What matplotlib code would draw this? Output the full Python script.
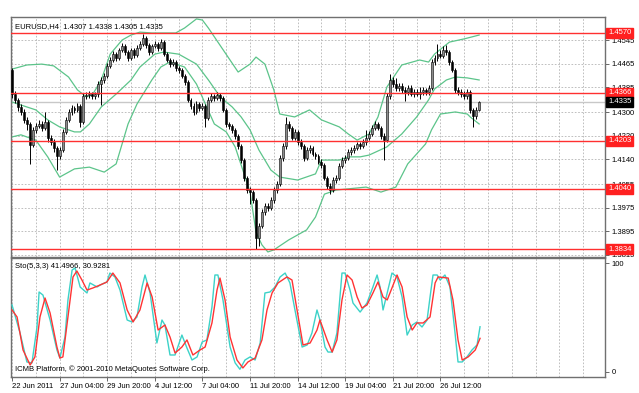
import matplotlib
matplotlib.use("Agg")
import matplotlib.pyplot as plt
import matplotlib.transforms as mtransforms

plt.rcParams["font.family"] = ["Liberation Sans", "DejaVu Sans"]

# ---------------- data ----------------
opens = [1.4444, 1.4362, 1.4342, 1.4318, 1.4301, 1.4274, 1.4260, 1.4188, 1.4240, 1.4253,
         1.4260, 1.4246, 1.4267, 1.4212, 1.4199, 1.4178, 1.4151, 1.4171, 1.4233, 1.4274,
         1.4301, 1.4314, 1.4308, 1.4321, 1.4267, 1.4355, 1.4359, 1.4362, 1.4355, 1.4362,
         1.4396, 1.4410, 1.4424, 1.4458, 1.4478, 1.4498, 1.4485, 1.4512, 1.4526, 1.4505,
         1.4485, 1.4512, 1.4495, 1.4519, 1.4533, 1.4553, 1.4529, 1.4505, 1.4526, 1.4533,
         1.4519, 1.4539, 1.4498, 1.4478, 1.4464, 1.4471, 1.4451, 1.4444, 1.4424, 1.4403,
         1.4342, 1.4321, 1.4301, 1.4328, 1.4314, 1.4321, 1.4280, 1.4342, 1.4355, 1.4349,
         1.4359, 1.4349, 1.4308, 1.4260, 1.4253, 1.4240, 1.4219, 1.4185, 1.4137, 1.4076,
         1.4035, 1.4028, 1.4001, 1.3872, 1.3912, 1.3960, 1.3981, 1.3974, 1.4001, 1.4035,
         1.4056, 1.4144, 1.4185, 1.4260, 1.4246, 1.4212, 1.4233, 1.4199, 1.4185, 1.4144,
         1.4171, 1.4178, 1.4158, 1.4151, 1.4131, 1.4120, 1.4076, 1.4049, 1.4035, 1.4069,
         1.4076, 1.4117, 1.4137, 1.4144, 1.4165, 1.4171, 1.4178, 1.4192, 1.4185, 1.4199,
         1.4212, 1.4226, 1.4246, 1.4260, 1.4246, 1.4219, 1.4205, 1.4355, 1.4410, 1.4396,
         1.4383, 1.4389, 1.4376, 1.4369, 1.4383, 1.4362, 1.4369, 1.4362, 1.4369, 1.4376,
         1.4369, 1.4383, 1.4471, 1.4485, 1.4498, 1.4492, 1.4512, 1.4505, 1.4471, 1.4444,
         1.4376, 1.4369, 1.4362, 1.4355, 1.4369, 1.4308, 1.4287, 1.4307]

closes = [1.4362, 1.4342, 1.4318, 1.4301, 1.4274, 1.4260, 1.4188, 1.4240, 1.4253, 1.4260,
          1.4246, 1.4267, 1.4212, 1.4199, 1.4178, 1.4151, 1.4171, 1.4233, 1.4274, 1.4301,
          1.4314, 1.4308, 1.4321, 1.4267, 1.4355, 1.4359, 1.4362, 1.4355, 1.4362, 1.4396,
          1.4410, 1.4424, 1.4458, 1.4478, 1.4498, 1.4485, 1.4512, 1.4526, 1.4505, 1.4485,
          1.4512, 1.4495, 1.4519, 1.4533, 1.4553, 1.4529, 1.4505, 1.4526, 1.4533, 1.4519,
          1.4539, 1.4498, 1.4478, 1.4464, 1.4471, 1.4451, 1.4444, 1.4424, 1.4403, 1.4342,
          1.4321, 1.4301, 1.4328, 1.4314, 1.4321, 1.4280, 1.4342, 1.4355, 1.4349, 1.4359,
          1.4349, 1.4308, 1.4260, 1.4253, 1.4240, 1.4219, 1.4185, 1.4137, 1.4076, 1.4035,
          1.4028, 1.4001, 1.3872, 1.3912, 1.3960, 1.3981, 1.3974, 1.4001, 1.4035, 1.4056,
          1.4144, 1.4185, 1.4260, 1.4246, 1.4212, 1.4233, 1.4199, 1.4185, 1.4144, 1.4171,
          1.4178, 1.4158, 1.4151, 1.4131, 1.4120, 1.4076, 1.4049, 1.4035, 1.4069, 1.4076,
          1.4117, 1.4137, 1.4144, 1.4165, 1.4171, 1.4178, 1.4192, 1.4185, 1.4199, 1.4212,
          1.4226, 1.4246, 1.4260, 1.4246, 1.4219, 1.4205, 1.4355, 1.4410, 1.4396, 1.4383,
          1.4389, 1.4376, 1.4369, 1.4383, 1.4362, 1.4369, 1.4362, 1.4369, 1.4376, 1.4369,
          1.4383, 1.4471, 1.4485, 1.4498, 1.4492, 1.4512, 1.4505, 1.4471, 1.4444, 1.4376,
          1.4369, 1.4362, 1.4355, 1.4369, 1.4308, 1.4287, 1.4307, 1.4335]

highs = [1.4452, 1.4372, 1.4350, 1.4328, 1.4310, 1.4285, 1.4268, 1.4250, 1.4265, 1.4272,
         1.4270, 1.4301, 1.4275, 1.4222, 1.4208, 1.4185, 1.4180, 1.4242, 1.4285, 1.4312,
         1.4325, 1.4322, 1.4332, 1.4328, 1.4366, 1.4368, 1.4372, 1.4370, 1.4370, 1.4405,
         1.4420, 1.4434, 1.4468, 1.4488, 1.4508, 1.4506, 1.4520, 1.4536, 1.4534, 1.4512,
         1.4520, 1.4520, 1.4528, 1.4542, 1.4567, 1.4560, 1.4536, 1.4534, 1.4542, 1.4540,
         1.4548, 1.4545, 1.4505, 1.4486, 1.4480, 1.4478, 1.4458, 1.4450, 1.4430, 1.4410,
         1.4350, 1.4330, 1.4338, 1.4336, 1.4330, 1.4328, 1.4352, 1.4366, 1.4362, 1.4368,
         1.4366, 1.4356, 1.4315, 1.4268, 1.4260, 1.4248, 1.4226, 1.4192, 1.4144, 1.4084,
         1.4045, 1.4036, 1.4008, 1.3922, 1.3970, 1.3990, 1.3990, 1.4010, 1.4045, 1.4066,
         1.4155, 1.4195, 1.4284, 1.4270, 1.4254, 1.4244, 1.4240, 1.4208, 1.4192, 1.4180,
         1.4188, 1.4186, 1.4166, 1.4158, 1.4140, 1.4128, 1.4084, 1.4058, 1.4078, 1.4086,
         1.4126, 1.4146, 1.4154, 1.4174, 1.4180, 1.4188, 1.4200, 1.4200, 1.4208, 1.4240,
         1.4236, 1.4255, 1.4270, 1.4268, 1.4254, 1.4228, 1.4365, 1.4430, 1.4420, 1.4415,
         1.4400, 1.4398, 1.4386, 1.4392, 1.4392, 1.4380, 1.4378, 1.4385, 1.4386, 1.4384,
         1.4392, 1.4480, 1.4495, 1.4533, 1.4512, 1.4525, 1.4530, 1.4512, 1.4478, 1.4452,
         1.4386, 1.4378, 1.4372, 1.4380, 1.4376, 1.4316, 1.4318, 1.4338]

lows = [1.4350, 1.4330, 1.4305, 1.4290, 1.4262, 1.4240, 1.4124, 1.4180, 1.4230, 1.4245,
        1.4236, 1.4238, 1.4200, 1.4188, 1.4166, 1.4103, 1.4140, 1.4165, 1.4225, 1.4266,
        1.4292, 1.4298, 1.4300, 1.4250, 1.4260, 1.4345, 1.4350, 1.4345, 1.4346, 1.4352,
        1.4325, 1.4400, 1.4415, 1.4450, 1.4470, 1.4476, 1.4478, 1.4505, 1.4496, 1.4476,
        1.4478, 1.4486, 1.4488, 1.4512, 1.4526, 1.4520, 1.4496, 1.4498, 1.4518, 1.4510,
        1.4512, 1.4490, 1.4470, 1.4455, 1.4456, 1.4442, 1.4435, 1.4415, 1.4394, 1.4334,
        1.4312, 1.4292, 1.4294, 1.4305, 1.4306, 1.4250, 1.4272, 1.4334, 1.4340, 1.4341,
        1.4340, 1.4300, 1.4250, 1.4244, 1.4230, 1.4210, 1.4176, 1.4128, 1.4066, 1.4025,
        1.3987, 1.3990, 1.3834, 1.3845, 1.3905, 1.3950, 1.3962, 1.3966, 1.3992, 1.4025,
        1.4048, 1.4135, 1.4176, 1.4236, 1.4204, 1.4204, 1.4190, 1.4176, 1.4135, 1.4136,
        1.4162, 1.4150, 1.4142, 1.4122, 1.4110, 1.4068, 1.4040, 1.4021, 1.4028, 1.4060,
        1.4068, 1.4110, 1.4128, 1.4136, 1.4156, 1.4162, 1.4170, 1.4176, 1.4178, 1.4190,
        1.4204, 1.4218, 1.4238, 1.4238, 1.4210, 1.4137, 1.4198, 1.4345, 1.4386, 1.4374,
        1.4372, 1.4366, 1.4340, 1.4360, 1.4354, 1.4352, 1.4354, 1.4346, 1.4360, 1.4360,
        1.4360, 1.4375, 1.4462, 1.4476, 1.4484, 1.4484, 1.4496, 1.4462, 1.4436, 1.4366,
        1.4360, 1.4352, 1.4346, 1.4346, 1.4298, 1.4250, 1.4278, 1.4305]

# Bollinger bands (bar index, price)
bb_upper_x = [0, 5, 10, 14, 19, 22, 25, 27, 30, 33, 37, 40, 43, 47, 55, 58, 62, 64, 66, 71,
              76, 80, 82, 85, 88, 90, 95, 100, 104, 110, 113, 116, 120, 123, 126, 131, 137,
              140, 142, 147, 152, 157]
bb_upper_y = [1.4447, 1.4461, 1.4464, 1.4458, 1.4420, 1.4376, 1.4352, 1.4359, 1.4410, 1.4498,
              1.4546, 1.4563, 1.4573, 1.4570, 1.4570, 1.4587, 1.4618, 1.4614, 1.4587, 1.4512,
              1.4437, 1.4464, 1.4488, 1.4464, 1.4376, 1.4294, 1.4284, 1.4308, 1.4274, 1.4250,
              1.4226, 1.4205, 1.4226, 1.4284, 1.4386, 1.4461, 1.4478, 1.4471, 1.4498, 1.4539,
              1.4550, 1.4563]
bb_mid_x = [0, 2, 8, 12, 16, 21, 23, 26, 30, 35, 40, 43, 48, 51, 56, 62, 66, 70, 74, 77, 80,
            83, 87, 90, 96, 102, 104, 110, 113, 117, 120, 126, 131, 136, 140, 142, 146, 149,
            153, 157]
bb_mid_y = [1.4335, 1.4328, 1.4308, 1.4274, 1.4250, 1.4233, 1.4233, 1.4260, 1.4318, 1.4362,
            1.4410, 1.4454, 1.4498, 1.4505, 1.4498, 1.4464, 1.4410, 1.4352, 1.4318, 1.4284,
            1.4240, 1.4171, 1.4103, 1.4079, 1.4069, 1.4090, 1.4137, 1.4137, 1.4148, 1.4148,
            1.4154, 1.4182, 1.4226, 1.4284, 1.4342, 1.4379, 1.4410, 1.4420, 1.4417, 1.4410]
bb_low_x = [0, 3, 8, 12, 16, 21, 26, 31, 35, 37, 39, 42, 47, 50, 53, 58, 62, 65, 68, 72, 75,
            78, 80, 82, 84, 86, 88, 93, 99, 102, 105, 109, 112, 119, 124, 129, 133, 139, 141,
            144, 149, 153, 154, 157]
bb_low_y = [1.4216, 1.4223, 1.4205, 1.4148, 1.4079, 1.4107, 1.4113, 1.4096, 1.4124, 1.4192,
            1.4260, 1.4328, 1.4410, 1.4454, 1.4471, 1.4454, 1.4396, 1.4328, 1.4260, 1.4233,
            1.4182, 1.4090, 1.4028, 1.3892, 1.3848, 1.3824, 1.3831, 1.3865, 1.3899, 1.3943,
            1.4021, 1.4035, 1.4038, 1.4045, 1.4028, 1.4045, 1.4124, 1.4192, 1.4240, 1.4294,
            1.4301, 1.4294, 1.4284, 1.4260]

# Stochastic (5,3,3)
sto_k_x = [0, 2.7, 5.0, 6.7, 8.4, 9.1, 10.4, 12.8, 15.1, 16.1, 17.8, 18.8, 20.2, 21.2, 22.9,
           25.2, 26.2, 28.6, 29.6, 31.9, 32.9, 34.6, 36.3, 38.7, 40.3, 42.0, 43.7, 44.7, 46.4,
           48.7, 50.4, 51.4, 53.1, 54.8, 57.1, 58.8, 60.5, 62.2, 63.9, 65.5, 67.2, 68.2, 69.2,
           70.9, 73.3, 75.0, 76.6, 78.3, 80.0, 81.7, 83.4, 85.0, 86.7, 88.4, 90.1, 91.8, 93.4,
           95.1, 97.5, 99.2, 100.8, 102.5, 103.5, 105.2, 106.2, 107.6, 109.2, 110.9, 111.9,
           113.6, 114.6, 117.0, 119.3, 121.3, 122.7, 123.7, 124.7, 126.1, 127.7, 129.4, 131.1,
           132.8, 134.5, 136.1, 137.8, 139.5, 140.5, 141.5, 142.9, 143.9, 145.5, 147.2, 148.9,
           149.9, 151.3, 152.9, 154.6, 156.3, 157.3]
sto_k_y = [61.5, 35.8, 9.2, 8.3, 41.3, 73.4, 70.6, 47.7, 20.2, 12.8, 32.1, 66.1, 93.6, 95.4,
           78.0, 72.5, 81.7, 78.0, 79.8, 82.6, 90.8, 87.2, 75.2, 47.7, 45.9, 50.5, 78.0, 89.0,
           72.5, 26.6, 47.7, 43.1, 15.6, 15.6, 33.9, 22.0, 11.0, 13.8, 27.5, 29.4, 59.6, 89.0,
           89.0, 66.1, 22.9, 8.3, 2.5, 11.0, 13.8, 11.0, 26.6, 72.5, 73.4, 78.0, 87.2, 90.8,
           81.7, 56.9, 22.9, 24.8, 35.8, 56.9, 47.7, 22.9, 18.3, 18.3, 35.8, 90.8, 90.8, 75.2,
           63.3, 55.0, 63.3, 78.0, 89.0, 78.0, 56.9, 72.5, 90.8, 87.2, 68.8, 33.9, 43.1, 45.9,
           41.3, 47.7, 68.8, 89.0, 89.0, 84.4, 89.0, 78.0, 35.8, 9.2, 9.2, 13.8, 20.2, 24.8,
           41.5]
sto_d_x = [0, 1.7, 3.7, 6.1, 7.7, 9.4, 11.1, 12.8, 15.1, 16.1, 17.1, 18.8, 20.5, 21.8, 23.5,
           25.2, 27.2, 29.6, 31.9, 33.9, 36.3, 38.7, 40.7, 43.0, 45.4, 47.1, 49.1, 51.4, 53.1,
           54.8, 57.1, 58.8, 60.8, 63.2, 64.9, 67.2, 68.9, 69.9, 71.6, 73.3, 75.6, 77.6, 79.3,
           81.7, 84.0, 85.7, 87.4, 89.4, 92.4, 94.1, 95.8, 97.8, 100.2, 102.5, 103.5, 105.9,
           107.6, 109.2, 110.9, 112.6, 114.3, 116.0, 117.6, 119.3, 121.3, 123.0, 124.7, 126.1,
           127.7, 129.4, 131.1, 132.8, 134.5, 136.1, 138.2, 140.5, 142.2, 143.2, 146.6, 148.2,
           149.9, 151.3, 153.3, 155.7, 157.3]
sto_d_y = [56.9, 50.5, 20.2, 6.4, 13.8, 50.5, 67.9, 54.1, 22.9, 12.8, 13.8, 50.5, 87.2, 92.7,
           84.4, 75.2, 77.1, 79.8, 82.6, 90.8, 81.7, 56.9, 45.9, 56.9, 81.7, 68.8, 38.5, 43.1,
           32.1, 17.4, 22.9, 29.4, 15.6, 20.2, 22.9, 45.0, 75.2, 86.2, 66.1, 32.1, 11.0, 3.7,
           9.2, 12.8, 29.4, 56.9, 72.5, 81.7, 87.2, 84.4, 56.9, 24.8, 26.6, 38.5, 47.7, 29.4,
           18.3, 29.4, 66.1, 89.0, 84.4, 68.8, 58.7, 61.5, 72.5, 82.6, 68.8, 66.1, 77.1, 89.0,
           78.0, 50.5, 38.5, 45.0, 45.0, 50.5, 81.7, 87.2, 86.2, 66.1, 29.4, 11.0, 13.8, 20.2,
           30.9]

price_ticks = [1.4545, 1.4465, 1.4385, 1.4300, 1.4220, 1.4140, 1.4055, 1.3975, 1.3895, 1.3815]
levels = [1.4570, 1.4366, 1.4203, 1.4040, 1.3834]
level_labels = ["1.4570", "1.4366", "1.4203", "1.4040", "1.3834"]
bid_price = 1.4335
date_pos = [0, 16, 32, 48, 64, 80, 96, 112, 128, 144]
date_labels = ["22 Jun 2011", "27 Jun 04:00", "29 Jun 20:00", "4 Jul 12:00", "7 Jul 04:00",
               "11 Jul 20:00", "14 Jul 12:00", "19 Jul 04:00", "21 Jul 20:00", "26 Jul 12:00"]
grid_pos = list(range(0, 200, 8))

# ---------------- figure ----------------
W, H = 639, 393
fig = plt.figure(figsize=(W / 100, H / 100), dpi=100)
fig.patch.set_facecolor("white")
L, R = 11, 605
ax = fig.add_axes([L / W, 1 - 257 / H, (R - L) / W, (257 - 17) / H])
ax2 = fig.add_axes([L / W, 1 - 377 / H, (R - L) / W, (377 - 258) / H])

FS = 5.5
grid_kw = dict(color="#b4b4b4", linestyle=(0, (2, 2)), linewidth=0.6, zorder=0)

xmin, xmax = -0.34, 199.3
for a in (ax, ax2):
    a.set_xlim(xmin, xmax)
    a.set_facecolor("white")
    for s in a.spines.values():
        s.set_color("#707070")
        s.set_linewidth(1.0)
    for gx in grid_pos:
        a.axvline(gx, **grid_kw)

ax.set_ylim(1.38068, 1.46245)
for py in price_ticks:
    ax.axhline(py, **grid_kw)

# candles
n = len(closes)
idx = list(range(n))
up_x = [i for i in idx if closes[i] >= opens[i]]
dn_x = [i for i in idx if closes[i] < opens[i]]
ax.vlines(idx, lows, highs, color="black", linewidth=0.7, zorder=3)
ax.bar(up_x, [max(closes[i] - opens[i], 0.00008) for i in up_x],
       bottom=[opens[i] for i in up_x], width=0.65, color="#8c8c8c",
       edgecolor="black", linewidth=0.4, zorder=4)
ax.bar(dn_x, [opens[i] - closes[i] for i in dn_x],
       bottom=[closes[i] for i in dn_x], width=0.65, color="black",
       edgecolor="black", linewidth=0.4, zorder=4)

# bollinger bands
bcol = "#5cc48a"
ax.plot(bb_upper_x, bb_upper_y, color=bcol, lw=0.9, zorder=2)
ax.plot(bb_mid_x, bb_mid_y, color=bcol, lw=0.9, zorder=2)
ax.plot(bb_low_x, bb_low_y, color=bcol, lw=0.9, zorder=2)

# horizontal levels
trans = mtransforms.blended_transform_factory(ax.transAxes, ax.transData)
for lv, lab in zip(levels, level_labels):
    ax.axhline(lv, color="#ff3030", lw=1.0, zorder=5)
    ax.text(1.005, lv, lab, transform=trans, fontsize=FS, color="white", va="center",
            ha="left", clip_on=False, zorder=10,
            bbox=dict(boxstyle="square,pad=0.2", fc="#ff2020", ec="#ff2020"))
ax.axhline(bid_price, color="#c8c8c8", lw=1.0, zorder=1)
ax.text(1.005, bid_price, "1.4335", transform=trans, fontsize=FS, color="white",
        va="center", ha="left", clip_on=False, zorder=10,
        bbox=dict(boxstyle="square,pad=0.2", fc="black", ec="black"))

ax.yaxis.tick_right()
ax.set_yticks(price_ticks)
ax.set_yticklabels([f"{p:.4f}" for p in price_ticks])
ax.tick_params(axis="y", labelsize=FS, length=3, width=0.6, color="#505050", pad=2,
               labelcolor="black")
ax.set_xticks([])

ax.text(0.006, 0.975, "EURUSD,H4  1.4307 1.4338 1.4305 1.4335", transform=ax.transAxes,
        fontsize=FS, va="top", ha="left")

# stochastic
ax2.set_ylim(-4.6, 104.6)
ax2.plot(sto_k_x, sto_k_y, color="#3cd2c8", lw=1.0, zorder=3)
ax2.plot(sto_d_x, sto_d_y, color="#ff3333", lw=1.0, zorder=4)
ax2.yaxis.tick_right()
ax2.set_yticks([0, 100])
ax2.set_yticklabels(["0", "100"])
ax2.tick_params(axis="y", labelsize=FS, length=3, width=0.6, color="#505050", pad=2)
ax2.set_xticks(date_pos)
ax2.set_xticklabels(date_labels, ha="left")
ax2.tick_params(axis="x", labelsize=FS, length=3, width=0.6, color="#505050", pad=1.5)
ax2.text(0.006, 0.955, "Sto(5,3,3) 41.4966, 30.9281", transform=ax2.transAxes,
         fontsize=FS, va="top", ha="left")
ax2.text(0.006, 0.03, "ICMB Platform, \u00a9 2001-2010 MetaQuotes Software Corp.",
         transform=ax2.transAxes, fontsize=FS, va="bottom", ha="left")

fig.savefig("out.png", dpi=100, facecolor="white")
